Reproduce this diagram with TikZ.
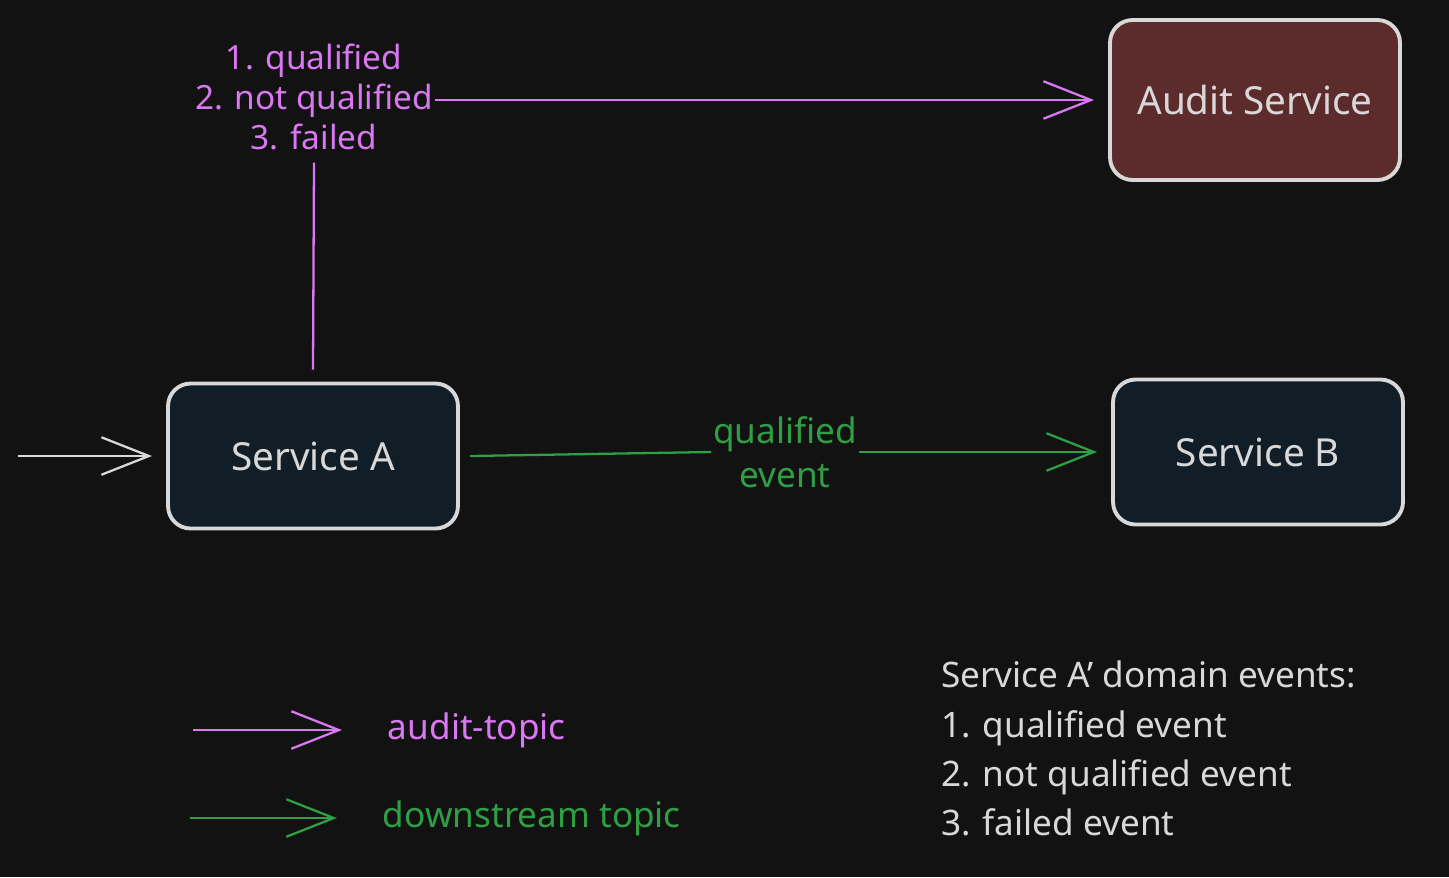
\documentclass[tikz,border=0pt]{standalone}
\usepackage{fontspec}
\setmainfont{Noto Sans}
\usetikzlibrary{arrows.meta}
\definecolor{bgdark}{HTML}{121212}
\definecolor{boxblue}{HTML}{121E27}
\definecolor{boxred}{HTML}{5C2B2B}
\definecolor{auditpink}{HTML}{DA77F2}
\definecolor{streamgreen}{HTML}{2F9E44}
\definecolor{edgegray}{HTML}{D8D8D8}
\tikzset{
    service/.style={draw=edgegray,line width=2.2pt,rounded corners=0.45cm,
        text=edgegray,font=\fontsize{22}{26}\selectfont,
        minimum width=5.8cm,minimum height=2.9cm},
    flow/.style={line width=1.3pt,shorten >=8pt,-{Straight Barb[length=0.95cm,width=0.75cm,line width=1.3pt]}},
    note/.style={font=\fontsize{19}{23}\selectfont,align=center}
}
\begin{document}
\begin{tikzpicture}[x=0.02cm,y=-0.02cm]
\fill[bgdark] (0,0) rectangle (1449,877);
\useasboundingbox (0,0) rectangle (1449,877);
% services
\node[service,fill=boxblue] (svcA) at (313,456) {Service A};
\node[service,fill=boxred,minimum height=3.2cm] (audit) at (1255,100) {Audit Service};
\node[service,fill=boxblue] (svcB) at (1258,452) {Service B};
% audit flow
\node[note,text=auditpink,inner sep=1pt] (auditlbl) at (314,97) {1. qualified\\2. not qualified\\3. failed};
\coordinate (incoming) at (18,456);
\draw[flow,edgegray] (incoming) -- (svcA.west);
\draw[auditpink,line width=1.3pt] (svcA.north) ++(0,-12) -- ([yshift=-0.2cm]auditlbl.south);
\draw[flow,auditpink] (auditlbl.east |- audit.west) -- (audit.west);
% downstream flow
\node[note,text=streamgreen,inner sep=1pt,font=\fontsize{20}{25}\selectfont] (streamlbl) at (785,452) {qualified\\event};
\draw[streamgreen,line width=1.3pt] (svcA.east) ++(10,0) -- (streamlbl.west);
\draw[flow,streamgreen] (streamlbl.east) -- (svcB.west);
% legend
\coordinate (legA) at (193,730);
\coordinate (legB) at (190,818);
\draw[flow,auditpink] (legA) -- ++(163,0) node[note,anchor=west,xshift=0.5cm,font=\fontsize{20}{24}\selectfont] (legAtxt) {audit-topic};
\draw[flow,streamgreen] (legB) -- ++(161,0) node[note,anchor=west,xshift=0.5cm,font=\fontsize{20}{24}\selectfont] (legBtxt) {downstream topic};
\node[note,text=edgegray,align=left,anchor=north west,font=\fontsize{20}{28}\selectfont] (events) at (935,655)
    {Service A' domain events:\\1. qualified event\\2. not qualified event\\3. failed event};
\end{tikzpicture}
\end{document}
